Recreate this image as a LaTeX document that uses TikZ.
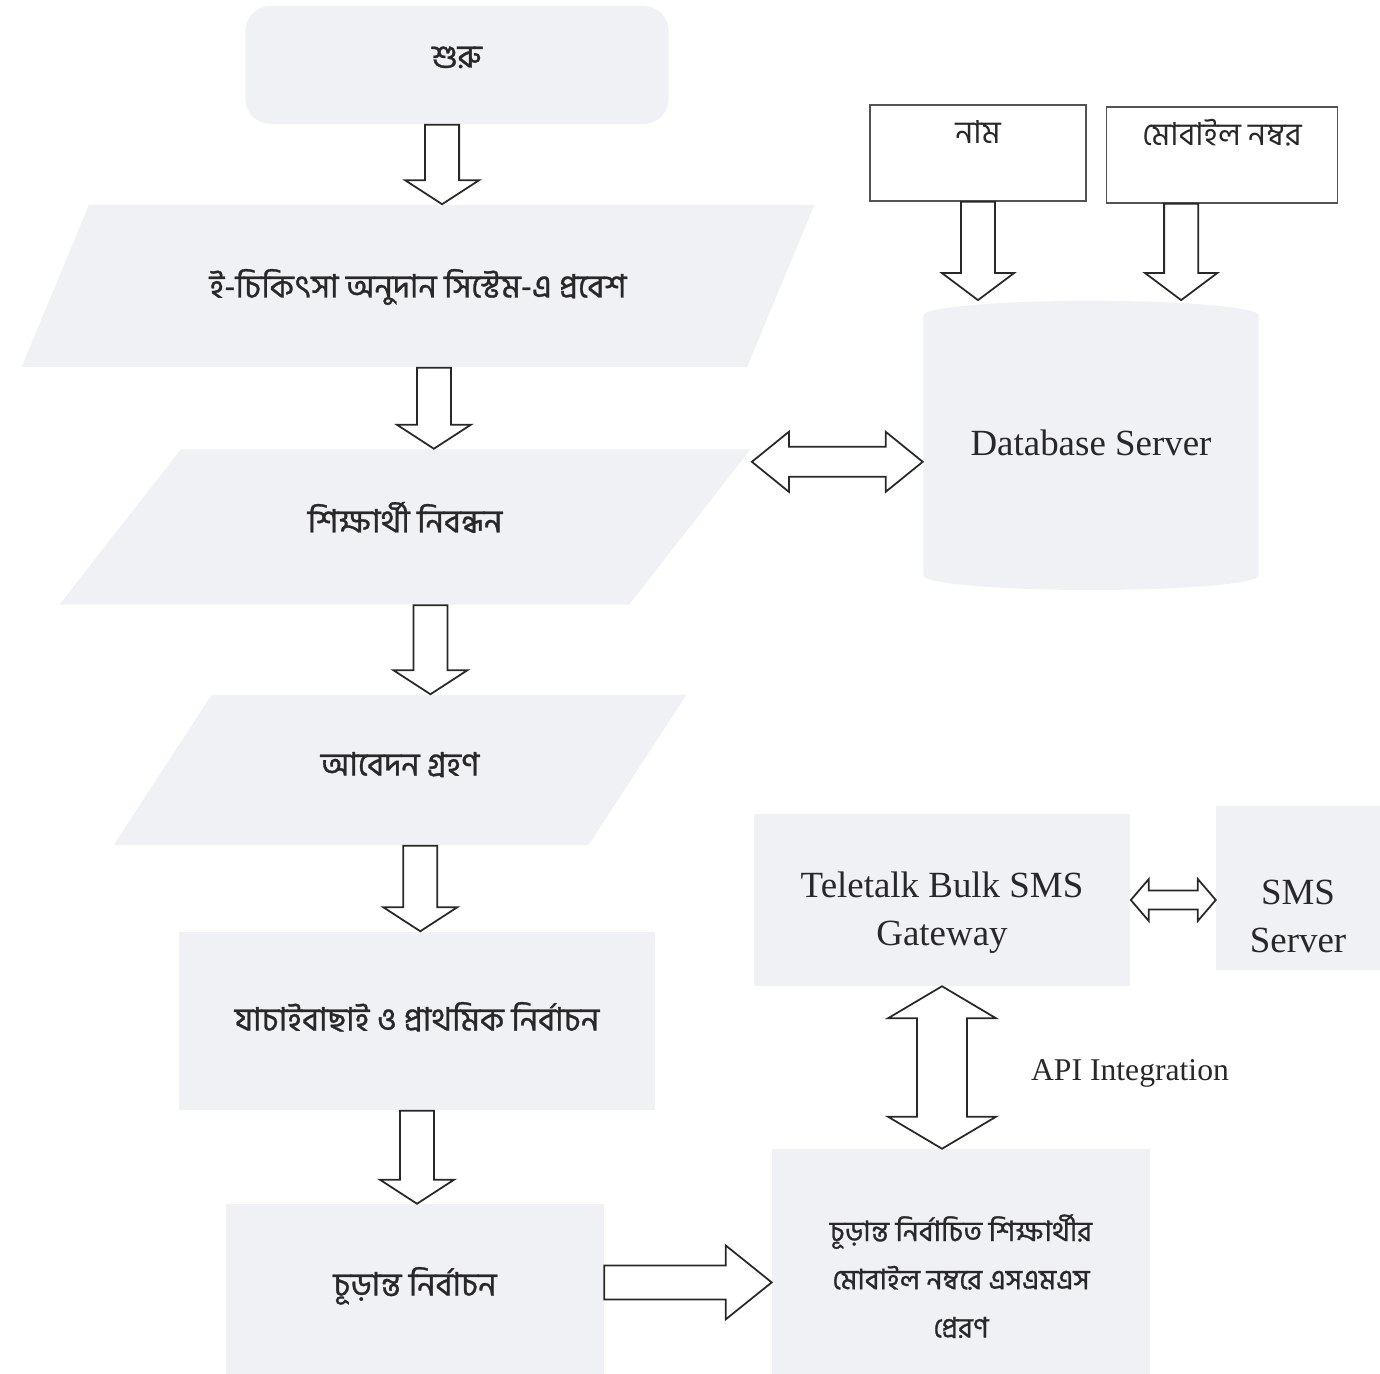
\documentclass[tikz,border=0pt]{standalone}
\usepackage{fontspec}
\setmainfont{Liberation Serif}
\newfontfamily\bnfont[Script=Bengali]{Hind Siliguri}
\newfontfamily\bnheavy[Script=Bengali,FakeBold=1]{Hind Siliguri}
\usetikzlibrary{calc,shapes.geometric,positioning}
\definecolor{scanfill}{RGB}{239,241,245}
\definecolor{inkgray}{RGB}{40,40,40}
\newcommand\stack[1]{\begin{tabular}[t]{@{}c@{}}#1\end{tabular}}

\begin{document}
\begin{tikzpicture}[x=0.01cm,y=-0.01cm,
    flow/.style={fill=scanfill,inner sep=0pt,text=inkgray,align=center,text height=0.3cm,
      font=\bnheavy\fontsize{9.2}{14}\selectfont},
    para/.style={flow,trapezium,trapezium stretches=true},
    inbox/.style={draw=inkgray!80,line width=0.4pt,fill=white,text=inkgray,inner xsep=0pt,inner ysep=0.09cm,
      text height=0.3cm,text depth=0.48cm,font=\bnfont\fontsize{9}{12}\selectfont},
    latin/.style={fill=scanfill,inner sep=0pt,text=inkgray,font=\fontsize{10.5}{13.7}\selectfont},
    blk/.style={draw=inkgray,fill=white,line width=0.5pt,line join=miter},
    hollow/.style n args={3}{blk,to path={
      ($(\tikztostart)!#1!90:(\tikztotarget)$)
      -- ($(\tikztotarget)!#3!(\tikztostart)!#1!-90:(\tikztostart)$)
      -- ($(\tikztotarget)!#3!(\tikztostart)!#2!-90:(\tikztostart)$)
      -- (\tikztotarget)
      -- ($(\tikztotarget)!#3!(\tikztostart)!#2!90:(\tikztostart)$)
      -- ($(\tikztotarget)!#3!(\tikztostart)!#1!90:(\tikztostart)$)
      -- ($(\tikztostart)!#1!-90:(\tikztotarget)$) -- cycle}},
    duplex/.style n args={3}{blk,to path={
      (\tikztostart)
      -- ($(\tikztostart)!#3!(\tikztotarget)!#2!90:(\tikztotarget)$)
      -- ($(\tikztostart)!#3!(\tikztotarget)!#1!90:(\tikztotarget)$)
      -- ($(\tikztotarget)!#3!(\tikztostart)!#1!-90:(\tikztostart)$)
      -- ($(\tikztotarget)!#3!(\tikztostart)!#2!-90:(\tikztostart)$)
      -- (\tikztotarget)
      -- ($(\tikztotarget)!#3!(\tikztostart)!#2!90:(\tikztostart)$)
      -- ($(\tikztotarget)!#3!(\tikztostart)!#1!90:(\tikztostart)$)
      -- ($(\tikztostart)!#3!(\tikztotarget)!#1!-90:(\tikztotarget)$)
      -- ($(\tikztostart)!#3!(\tikztotarget)!#2!-90:(\tikztotarget)$) -- cycle}}]
  \useasboundingbox (0,0) rectangle (1380,1374);

  % main flow
  \node[flow,rounded corners=0.25cm,minimum width=4.23cm,minimum height=1.18cm,text depth=0.25cm]
    (start) at (457,65) {শুরু};
  \node[para,trapezium left angle=41,trapezium right angle=139,minimum width=7.94cm,minimum height=1.62cm,
    text depth=0.07cm] (entry) at (418,286) {ই-চিকিৎসা অনুদান সিস্টেম-এ প্রবেশ};
  \node[para,trapezium left angle=43,trapezium right angle=137,minimum width=6.93cm,minimum height=1.55cm,
    text depth=0.19cm] (reg) at (405,527) {শিক্ষার্থী নিবন্ধন};
  \node[para,trapezium left angle=50,trapezium right angle=130,minimum width=5.73cm,minimum height=1.5cm,
    text depth=0.19cm] (apply) at (400,770) {আবেদন গ্রহণ};
  \node[flow,minimum width=4.75cm,minimum height=1.78cm,text depth=0.11cm]
    (verify) at (417,1021) {যাচাইবাছাই ও প্রাথমিক নির্বাচন};
  \node[flow,minimum width=3.77cm,minimum height=1.69cm,text depth=0.17cm]
    (final) at (415,1289) {চূড়ান্ত নির্বাচন};

  % database side
  \node[inbox,minimum width=2.16cm] (name) at (978,153) {নাম};
  \node[inbox,minimum width=2.31cm] (mobile) at (1222,155) {মোবাইল নম্বর};
  \node[latin,cylinder,shape border rotate=90,aspect=0.12,minimum width=3.35cm,minimum height=2.89cm,
    text height=0.3cm,text depth=0.24cm] (db) at (1091,453) {Database Server};

  % sms side
  \node[latin,minimum width=3.76cm,minimum height=1.71cm,text height=0.3cm,text depth=0.36cm]
    (gate) at (942,900) {\stack{Teletalk Bulk SMS\\Gateway}};
  \node[latin,minimum width=1.63cm,minimum height=1.63cm,text height=0.4cm,text depth=0.08cm]
    (sms) at (1298,888) {\stack{SMS\\Server}};
  \node[flow,font=\bnheavy\fontsize{8}{13.7}\selectfont,minimum width=3.77cm,minimum height=2.25cm,
    text depth=0.72cm] (send) at (961,1262)
    {\stack{চূড়ান্ত নির্বাচিত শিক্ষার্থীর\\মোবাইল নম্বরে এসএমএস\\প্রেরণ}};
  \node[text=inkgray,font=\fontsize{9}{11}\selectfont] (api) at (1130,1073) {API Integration};

  \draw[hollow={0.17cm}{0.37cm}{0.24cm}] (start.-104) to (start.-104 |- entry.north);
  \draw[hollow={0.17cm}{0.37cm}{0.24cm}] (entry.-79) to (entry.-79 |- reg.north);
  \draw[hollow={0.17cm}{0.37cm}{0.24cm}] (reg.-72) to (reg.-72 |- apply.north);
  \draw[hollow={0.17cm}{0.37cm}{0.24cm}] (apply.-75) to (apply.-75 |- verify.north);
  \draw[hollow={0.17cm}{0.37cm}{0.24cm}] (verify.south) to (verify.south |- final.north);
  \draw[hollow={0.17cm}{0.36cm}{0.27cm}] (name.south) to (name.south |- db.north);
  \draw[hollow={0.17cm}{0.36cm}{0.27cm}] (mobile.-130) to (mobile.-130 |- db.north);
  \draw[duplex={0.15cm}{0.3cm}{0.37cm}] (db.183 -| reg.top right corner) to (db.183);
  \draw[duplex={0.095cm}{0.21cm}{0.18cm}] (gate.east) to (gate.east -| sms.west);
  \draw[duplex={0.25cm}{0.54cm}{0.32cm}] (gate.south) to (gate.south |- send.north);
  \draw[hollow={0.17cm}{0.37cm}{0.46cm}] (final.2) to (final.2 -| send.west);
\end{tikzpicture}
\end{document}
